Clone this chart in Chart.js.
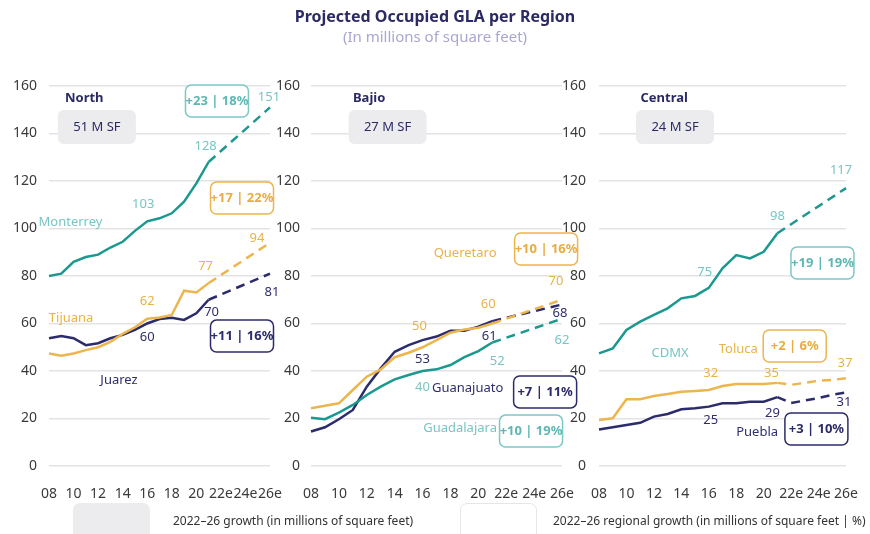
<!DOCTYPE html>
<html>
<head>
<meta charset="utf-8">
<script src="https://cdn.jsdelivr.net/npm/chart.js@4.4.1/dist/chart.umd.min.js"></script>
<style>
  html, body { margin: 0; padding: 0; background: #ffffff; }
  #wrap { position: relative; width: 870px; height: 534px; overflow: hidden; font-family: 'Noto Sans', sans-serif; }
  #wrap canvas { position: absolute; left: 0; top: 0; }
  .title { position: absolute; left: 0; top: 5px; width: 870px; text-align: center; font-size: 16px; font-weight: 700; color: #2b2a64; }
  .subtitle { position: absolute; left: 0; top: 26px; width: 870px; text-align: center; font-size: 15px; color: #a9a7d1; }
  .lg-box { position: absolute; top: 503px; width: 77px; height: 44px; border-radius: 7px; box-sizing: border-box; }
  .lg-text { position: absolute; top: 512px; font-size: 12px; color: #333333; white-space: nowrap; }
</style>
</head>
<body>
<div id="wrap">
  <canvas id="c1" width="870" height="534"></canvas>
  <canvas id="c2" width="870" height="534"></canvas>
  <canvas id="c3" width="870" height="534"></canvas>
  <div class="title">Projected Occupied GLA per Region</div>
  <div class="subtitle">(In millions of square feet)</div>
  <div class="lg-box" style="left:73px; background:#ececef;"></div>
  <div class="lg-text" style="left:173px;">2022–26 growth (in millions of square feet)</div>
  <div class="lg-box" style="left:460px; background:#ffffff; border:1px solid #e6e6e8;"></div>
  <div class="lg-text" style="left:553px;">2022–26 regional growth (in millions of square feet | %)</div>
</div>
<script>
// Years on the x axis: actuals through 2021, estimates 2022e–2026e
const years = ['08','09','10','11','12','13','14','15','16','17','18','19','20','21','22e','23e','24e','25e','26e'];
const yTicks = [0, 20, 40, 60, 80, 100, 120, 140, 160];

// North
const monterreyActual   = [80, 81, 86, 88, 89, 92, 94.4, 99, 103, 104.3, 106.4, 111.3, 119, 128];
const monterreyForecast = [null, null, null, null, 151];
const tijuanaActual     = [47.4, 46.4, 47.4, 48.8, 50, 52.3, 55.6, 58.4, 62, 62.5, 63.6, 73.8, 73.1, 77];
const tijuanaForecast   = [null, null, null, null, 94];
const juarezActual      = [53.8, 54.7, 53.8, 50.9, 51.7, 53.8, 55.2, 57.3, 60, 61.9, 62.4, 61.5, 64.3, 70];
const juarezForecast    = [null, null, null, null, 81];

// Bajio
const queretaroActual     = [24.3, 25.4, 26.4, 32, 37.6, 40.7, 45.8, 47.7, 50, 53, 56.1, 57.5, 58.2, 60];
const queretaroForecast   = [null, null, null, null, 70];
const guanajuatoActual    = [14.5, 16.3, 19.7, 23.6, 33.4, 41.1, 48.1, 50.9, 53, 54.5, 57, 57, 58.7, 61];
const guanajuatoForecast  = [null, null, null, null, 68];
const guadalajaraActual   = [20.3, 19.7, 22.5, 25.7, 29.9, 33.4, 36.5, 38.3, 40, 40.7, 42.5, 45.8, 48.4, 52];
const guadalajaraForecast = [null, null, null, null, 62];

// Central
const cdmxActual     = [47.4, 49.5, 57.3, 60.8, 63.6, 66.4, 70.6, 71.6, 75, 83.2, 88.8, 87.4, 90.2, 98];
const cdmxForecast   = [null, null, null, null, 117];
const tolucaActual   = [19.4, 20.1, 28.1, 28.1, 29.5, 30.3, 31.3, 31.6, 32, 33.7, 34.5, 34.5, 34.5, 35];
const tolucaForecast = [34.2, 35, 35.9, 36.2, 37];
const pueblaActual   = [15.4, 16.3, 17.3, 18.2, 20.8, 21.9, 23.9, 24.3, 25, 26.4, 26.4, 27.1, 27.1, 29];
const pueblaForecast = [26.5, 27.6, 28.6, 30, 31];

// Region headers, 2022–26 growth totals and per-market growth badges
const regionNames   = ['North', 'Bajio', 'Central'];
const regionGrowth  = ['51 M SF', '27 M SF', '24 M SF'];
const northBadges   = ['+23 | 18%', '+17 | 22%', '+11 | 16%'];
const bajioBadges   = ['+10 | 16%', '+7 | 11%', '+10 | 19%'];
const centralBadges = ['+19 | 19%', '+2 | 6%', '+3 | 10%'];

// Points whose values are printed: 2016, 2021, 2026e
const labelledIdx = [8, 13, 18];

const FONT = "'Noto Sans', sans-serif";
const COL = {
  teal:  { line: '#1b998f', text: '#79c5c3', badge: '#5fb7b3', border: '#7cc8c5' },
  gold:  { line: '#ecb54e', text: '#e9b24a', badge: '#e8ad40', border: '#ecb54e' },
  navy:  { line: '#2c2b6b', text: '#2f2d6e', badge: '#2c2b6b', border: '#2c2b6b' }
};

function fullActual(a) { return a.concat(new Array(years.length - a.length).fill(null)); }
function fullForecast(a, f) {
  return new Array(a.length - 1).fill(null).concat([a[a.length - 1]], f);
}

function roundRect(ctx, x, y, w, h, r) {
  ctx.beginPath();
  ctx.moveTo(x + r, y);
  ctx.lineTo(x + w - r, y);
  ctx.arcTo(x + w, y, x + w, y + r, r);
  ctx.lineTo(x + w, y + h - r);
  ctx.arcTo(x + w, y + h, x + w - r, y + h, r);
  ctx.lineTo(x + r, y + h);
  ctx.arcTo(x, y + h, x, y + h - r, r);
  ctx.lineTo(x, y + r);
  ctx.arcTo(x, y, x + r, y, r);
  ctx.closePath();
}

// Draws headers, growth boxes, market names and value labels in data space
const annotations = {
  id: 'annotations',
  afterDatasetsDraw(chart, args, o) {
    const { ctx } = chart;
    const xs = chart.scales.x, ys = chart.scales.y;
    const px = i => xs.getPixelForValue(i);
    const py = v => ys.getPixelForValue(v);
    ctx.save();
    ctx.textBaseline = 'middle';

    // region header + grey total box
    ctx.font = `700 13px ${FONT}`;
    ctx.fillStyle = '#2b2a64';
    ctx.textAlign = 'left';
    ctx.fillText(o.region, px(o.headerAt[0]), py(o.headerAt[1]));
    const bx = px(o.totalAt[0]), by = py(o.totalAt[1]);
    roundRect(ctx, bx - 39, by - 17, 78, 34, 6);
    ctx.fillStyle = '#ececef';
    ctx.fill();
    ctx.font = `400 13px ${FONT}`;
    ctx.fillStyle = '#2b2a64';
    ctx.textAlign = 'center';
    ctx.fillText(o.total, bx, by);

    o.series.forEach(s => {
      const c = COL[s.color];
      // market name
      ctx.font = `400 13px ${FONT}`;
      ctx.fillStyle = c.text;
      ctx.textAlign = 'center';
      ctx.fillText(s.name, px(s.nameAt[0]), py(s.nameAt[1]));
      // values at 2016 / 2021 / 2026e
      labelledIdx.forEach((idx, k) => {
        const v = idx < s.actual.length ? s.actual[idx] : s.forecast[idx - s.actual.length];
        ctx.fillText(String(Math.round(v)), px(idx) + s.off[k][0], py(v) + s.off[k][1]);
      });
      // growth badge
      const gx = px(s.badgeAt[0]), gy = py(s.badgeAt[1]);
      roundRect(ctx, gx - 31.5, gy - 16, 63, 32, 6);
      ctx.fillStyle = '#ffffff';
      ctx.fill();
      ctx.lineWidth = 1.5;
      ctx.strokeStyle = c.border;
      ctx.stroke();
      ctx.font = `700 13px ${FONT}`;
      ctx.fillStyle = c.badge;
      ctx.fillText(s.badge, gx, gy);
    });
    ctx.restore();
  }
};

function makePanel(canvasId, frame, o) {
  const datasets = [];
  o.series.forEach(s => {
    const c = COL[s.color].line;
    datasets.push({ label: s.name, data: fullActual(s.actual), borderColor: c, borderWidth: 2.5,
      pointRadius: 0, tension: 0, spanGaps: false });
    datasets.push({ label: s.name + ' (e)', data: fullForecast(s.actual, s.forecast), borderColor: c,
      borderWidth: 2.5, borderDash: [9, 6], pointRadius: 0, tension: 0, spanGaps: true });
  });
  return new Chart(document.getElementById(canvasId), {
    type: 'line',
    data: { labels: years, datasets },
    options: {
      responsive: false,
      animation: false,
      events: [],
      layout: { autoPadding: false, padding: { left: frame.left - frame.axisW, right: 870 - frame.right, top: 86, bottom: 534 - 466 - 34 } },
      plugins: { legend: { display: false }, tooltip: { enabled: false }, annotations: o },
      scales: {
        x: {
          type: 'category',
          grid: { display: false },
          border: { display: false },
          afterFit: s => { s.height = 34; },
          ticks: {
            autoSkip: false, maxRotation: 0, minRotation: 0, padding: 12,
            color: '#3a3a3a', font: { family: FONT, size: 14 },
            callback: (v, i) => (i % 2 === 0 ? years[i] : '')
          }
        },
        y: {
          min: 0, max: 160,
          afterFit: s => { s.width = frame.axisW; },
          afterBuildTicks: s => { s.ticks = yTicks.map(v => ({ value: v })); },
          grid: { color: '#e3e3e5', lineWidth: 1.5, drawTicks: false },
          border: { display: false },
          ticks: { padding: frame.pad, color: '#3a3a3a', font: { family: FONT, size: 14 } }
        }
      }
    },
    plugins: [annotations]
  });
}

makePanel('c1', { left: 49, right: 270, axisW: 49, pad: 12 }, {
  region: regionNames[0], total: regionGrowth[0], headerAt: [1.3, 155], totalAt: [3.9, 142.7],
  series: [
    { name: 'Tijuana', color: 'gold', actual: tijuanaActual, forecast: tijuanaForecast,
      nameAt: [1.8, 62.3], badge: northBadges[1], badgeAt: [15.72, 112.8], off: [[0, -17], [-3, -17], [-13, -4]] },
    { name: 'Juarez', color: 'navy', actual: juarezActual, forecast: juarezForecast,
      nameAt: [5.7, 36.2], badge: northBadges[2], badgeAt: [15.72, 54.7], off: [[0, 14], [3, 13], [2, 19]] },
    { name: 'Monterrey', color: 'teal', actual: monterreyActual, forecast: monterreyForecast,
      nameAt: [1.75, 102.5], badge: northBadges[0], badgeAt: [13.68, 153.7], off: [[-4, -17], [-3, -16], [-1, -10]] }
  ]
});

makePanel('c2', { left: 311, right: 562, axisW: 40, pad: 11 }, {
  region: regionNames[1], total: regionGrowth[1], headerAt: [3.01, 155], totalAt: [5.49, 142.7],
  series: [
    { name: 'Guadalajara', color: 'teal', actual: guadalajaraActual, forecast: guadalajaraForecast,
      nameAt: [10.69, 16], badge: bajioBadges[2], badgeAt: [15.78, 14.7], off: [[0, 16], [5, 19], [0, 22]] },
    { name: 'Queretaro', color: 'gold', actual: queretaroActual, forecast: queretaroForecast,
      nameAt: [11.05, 89.7], badge: bajioBadges[0], badgeAt: [16.86, 91.4], off: [[-3, -21], [-4, -19], [-6, -18]] },
    { name: 'Guanajuato', color: 'navy', actual: guanajuatoActual, forecast: guanajuatoForecast,
      nameAt: [11.23, 32.8], badge: bajioBadges[1], badgeAt: [16.79, 31.2], off: [[0, 19], [-3, 15], [-2, 9]] }
  ]
});

makePanel('c3', { left: 599, right: 849, axisW: 40, pad: 13 }, {
  region: regionNames[2], total: regionGrowth[2], headerAt: [3.02, 155], totalAt: [5.54, 142.7],
  series: [
    { name: 'CDMX', color: 'teal', actual: cdmxActual, forecast: cdmxForecast,
      nameAt: [5.18, 47.6], badge: centralBadges[0], badgeAt: [16.28, 85.5], off: [[-4, -16], [0, -17], [-5, -18]] },
    { name: 'Toluca', color: 'gold', actual: tolucaActual, forecast: tolucaForecast,
      nameAt: [10.15, 49.3], badge: centralBadges[1], badgeAt: [14.26, 50.5], off: [[2, -17], [-6, -10], [-1, -15]] },
    { name: 'Puebla', color: 'navy', actual: pueblaActual, forecast: pueblaForecast,
      nameAt: [11.52, 14.3], badge: centralBadges[2], badgeAt: [15.84, 15.6], off: [[2, 14], [-5, 16], [-2, 10]] }
  ]
});
</script>
</body>
</html>
